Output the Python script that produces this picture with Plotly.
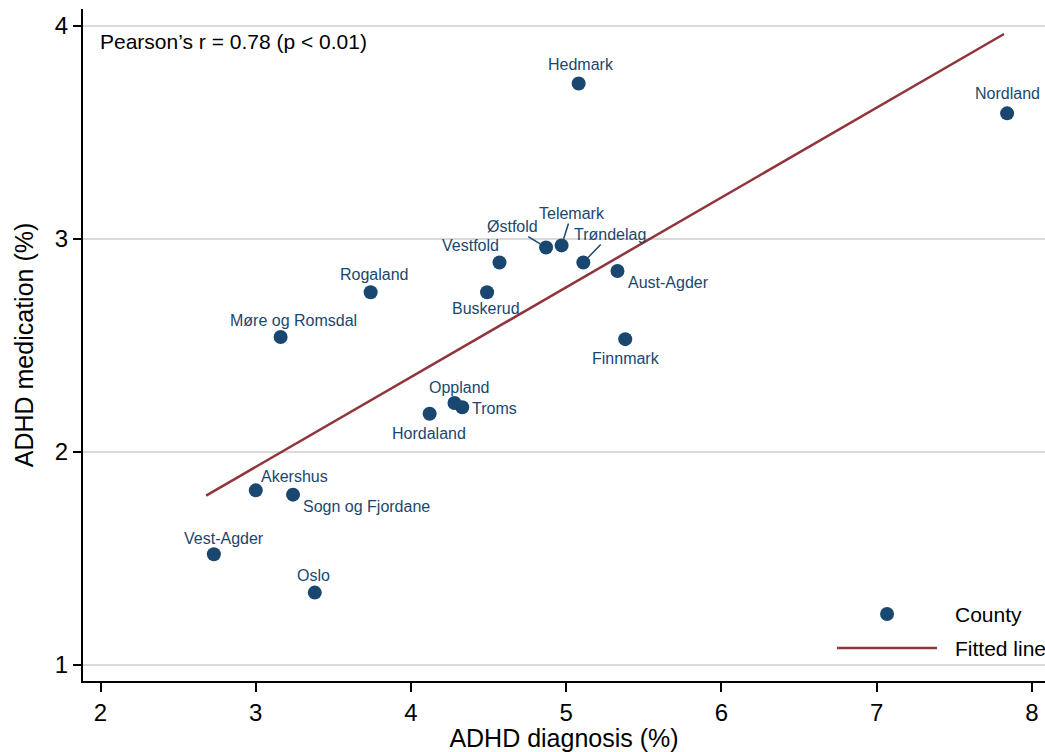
import numpy as np
import plotly.graph_objects as go

counties = ["Hedmark", "Nordland", "Østfold", "Telemark", "Trøndelag", "Vestfold",
            "Aust-Agder", "Rogaland", "Buskerud", "Møre og Romsdal", "Finnmark",
            "Oppland", "Troms", "Hordaland", "Akershus", "Sogn og Fjordane",
            "Vest-Agder", "Oslo"]
diagnosis = [5.08, 7.84, 4.87, 4.97, 5.11, 4.57, 5.33, 3.74, 4.49, 3.16, 5.38,
             4.28, 4.33, 4.12, 3.00, 3.24, 2.73, 3.38]
medication = [3.73, 3.59, 2.96, 2.97, 2.89, 2.89, 2.85, 2.75, 2.75, 2.54, 2.53,
              2.23, 2.21, 2.18, 1.82, 1.80, 1.52, 1.34]
fit_range = [2.68, 7.82]
x_ticks = [2, 3, 4, 5, 6, 7, 8]
y_ticks = [1, 2, 3, 4]

NAVY = "#1a476f"
MAROON = "#90353b"
FONT = "Liberation Sans, Arial, sans-serif"

# label offsets in pixels (dx right, dy up); arrow labels use (ax, ay) screen offsets
label_shift = {
    "Hedmark": (2, 19), "Nordland": (0, 20), "Vestfold": (-29, 17),
    "Aust-Agder": (51, -12), "Rogaland": (4, 18), "Buskerud": (-1, -16),
    "Møre og Romsdal": (13, 17), "Finnmark": (1, -19), "Oppland": (5, 16),
    "Troms": (32, -1), "Hordaland": (-1, -20), "Akershus": (39, 14),
    "Sogn og Fjordane": (73, -12), "Vest-Agder": (10, 16), "Oslo": (-1, 17),
}
label_arrow = {"Østfold": (-34, -21), "Telemark": (10, -32), "Trøndelag": (27, -28)}

slope, intercept = np.polyfit(diagnosis, medication, 1)
fx = np.array(fit_range)
fy = slope * fx + intercept

fig = go.Figure()
fig.add_trace(go.Scatter(x=fx, y=fy, mode="lines", name="Fitted line",
                         line=dict(color=MAROON, width=2.5), showlegend=False))
fig.add_trace(go.Scatter(x=diagnosis, y=medication, mode="markers", name="County",
                         marker=dict(color=NAVY, size=14), showlegend=False))

annotations = []
for name, x, y in zip(counties, diagnosis, medication):
    if name in label_arrow:
        ax, ay = label_arrow[name]
        annotations.append(dict(x=x, y=y, text=name, showarrow=True, arrowhead=0,
                                arrowwidth=1.5, arrowcolor=NAVY, ax=ax, ay=ay,
                                standoff=7, font=dict(family=FONT, size=16, color=NAVY)))
    else:
        dx, dy = label_shift[name]
        annotations.append(dict(x=x, y=y, text=name, showarrow=False,
                                xshift=dx, yshift=dy,
                                font=dict(family=FONT, size=16, color=NAVY)))

annotations.append(dict(xref="paper", yref="paper", x=0.0156, y=0.951,
                        xanchor="left", yanchor="middle", showarrow=False,
                        text="Pearson’s r = 0.78 (p < 0.01)",
                        font=dict(family=FONT, size=21, color="black")))
# custom legend text
annotations.append(dict(xref="paper", yref="paper", x=0.9044, y=0.0997,
                        xanchor="left", yanchor="middle", showarrow=False,
                        text="County", font=dict(family=FONT, size=21, color="black")))
annotations.append(dict(xref="paper", yref="paper", x=0.9044, y=0.0491,
                        xanchor="left", yanchor="middle", showarrow=False,
                        text="Fitted line", font=dict(family=FONT, size=21, color="black")))

shapes = [
    dict(type="circle", xref="paper", yref="paper", xsizemode="pixel", ysizemode="pixel",
         xanchor=0.8358, yanchor=0.0997, x0=-7, x1=7, y0=-7, y1=7,
         fillcolor=NAVY, line=dict(width=0)),
    dict(type="line", xref="paper", yref="paper", x0=0.7838, x1=0.8877,
         y0=0.0491, y1=0.0491, line=dict(color=MAROON, width=2.5)),
]

fig.update_layout(
    width=1045, height=752,
    margin=dict(l=83, r=0, t=9, b=71),
    plot_bgcolor="white", paper_bgcolor="white",
    font=dict(family=FONT, color="black"),
    annotations=annotations, shapes=shapes,
    xaxis=dict(range=[1.887, 8.084], tickvals=x_ticks, showgrid=False, zeroline=False,
               showline=True, linecolor="black", linewidth=2, ticks="outside",
               ticklen=9, tickwidth=1.5, tickcolor="black",
               tickfont=dict(size=24, family=FONT),
               title=dict(text="ADHD diagnosis (%)", font=dict(size=25, family=FONT), standoff=6)),
    yaxis=dict(range=[0.925, 4.08], tickvals=y_ticks, showgrid=True, gridcolor="#d9d9d9",
               gridwidth=1.5, zeroline=False,
               showline=True, linecolor="black", linewidth=2, ticks="outside",
               ticklen=8, tickwidth=1.5, tickcolor="black",
               tickfont=dict(size=24, family=FONT),
               title=dict(text="ADHD medication (%)", font=dict(size=25, family=FONT), standoff=14)),
)

fig.write_html("out.html", config={"displayModeBar": False},
               post_script="document.body.style.margin='0';document.body.style.overflow='hidden';")
